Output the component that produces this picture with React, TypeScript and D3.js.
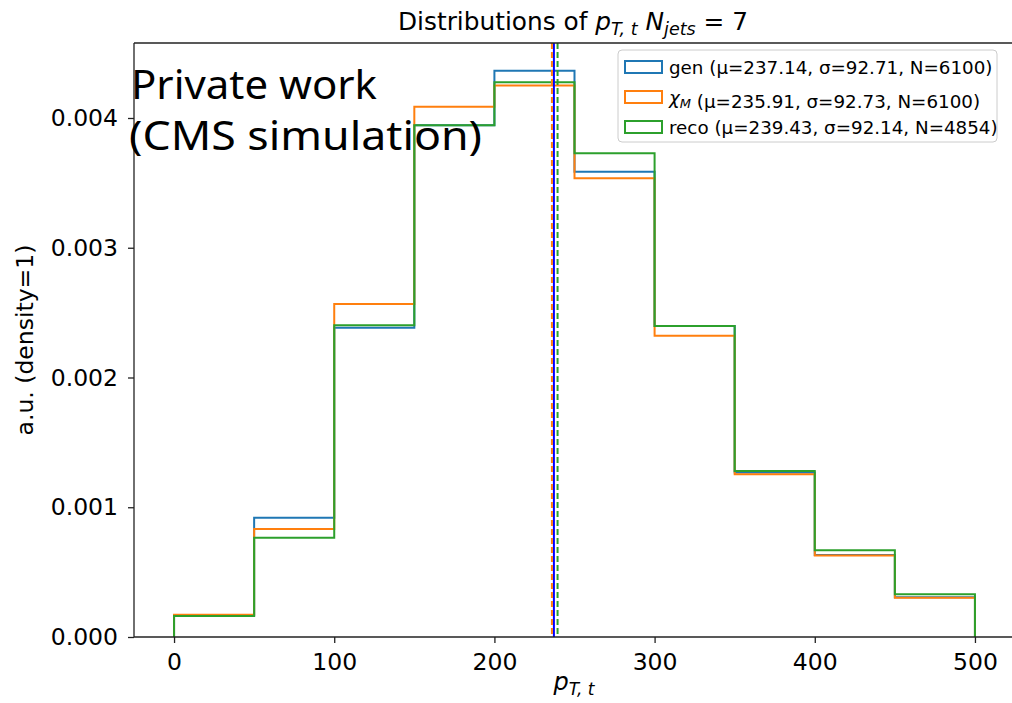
import React, { useEffect, useRef } from 'react';
import * as d3 from 'd3';

// bin edges of p_T,t histogram
const binEdges = [0, 50, 100, 150, 200, 250, 300, 350, 400, 450, 500];

// density values per bin
const genValues = [0.000165, 0.000919, 0.002384, 0.003944, 0.004365, 0.003586, 0.002397, 0.001268, 0.000632, 0.000306];
const chiValues = [0.000172, 0.000832, 0.002567, 0.004087, 0.00425, 0.003535, 0.002322, 0.001254, 0.000628, 0.000302];
const recoValues = [0.000162, 0.000765, 0.002402, 0.003944, 0.004275, 0.003728, 0.002397, 0.001279, 0.000668, 0.000329];

const seriesColors = ['#1f77b4', '#ff7f0e', '#2ca02c'];
const meanValues = [237.14, 235.91, 239.43];
const meanColors = ['blue', '#ff7f0e', '#2ca02c'];
const meanDashes = ['none', '6,3', '6,3'];

const legendRest = [
  ' (μ=237.14, σ=92.71, N=6100)',
  ' (μ=235.91, σ=92.73, N=6100)',
  ' (μ=239.43, σ=92.14, N=4854)',
];

const xTicks = [0, 100, 200, 300, 400, 500];
const yTicks = [0, 0.001, 0.002, 0.003, 0.004];

const W = 1012;
const H = 703;
const font = 'DejaVu Sans';

export default function App() {
  const xAxisRef = useRef<SVGGElement>(null);
  const yAxisRef = useRef<SVGGElement>(null);

  const x = d3.scaleLinear().domain([-25, 525]).range([134, 1015]);
  const y = d3.scaleLinear().domain([0, 0.004578]).range([637, 43]);

  useEffect(() => {
    const gx = d3.select(xAxisRef.current);
    gx.call(d3.axisBottom(x).tickValues(xTicks).tickSize(6).tickPadding(10).tickFormat(d3.format('d')) as any);
    gx.select('.domain').remove();
    gx.selectAll('text').attr('font-size', 23.5).attr('font-family', font).attr('fill', '#000');
    gx.selectAll('line').attr('stroke', '#222').attr('stroke-width', 1.3);

    const gy = d3.select(yAxisRef.current);
    gy.call(d3.axisLeft(y).tickValues(yTicks).tickSize(6).tickPadding(10).tickFormat(d3.format('.3f')) as any);
    gy.select('.domain').remove();
    gy.selectAll('text').attr('font-size', 23.5).attr('font-family', font).attr('fill', '#000');
    gy.selectAll('line').attr('stroke', '#222').attr('stroke-width', 1.3);
  }, []);

  const stepPath = (vals: number[]) => {
    const pts: [number, number][] = [[binEdges[0], 0]];
    vals.forEach((v, i) => {
      pts.push([binEdges[i], v]);
      pts.push([binEdges[i + 1], v]);
    });
    pts.push([binEdges[binEdges.length - 1], 0]);
    return d3.line<[number, number]>().x(d => x(d[0])).y(d => y(d[1]))(pts) || '';
  };

  const series = [genValues, chiValues, recoValues];

  return (
    <svg width={W} height={H} style={{ position: 'absolute', left: 0, top: 0, background: '#fff' }}>
      <defs>
        <clipPath id="plot">
          <rect x={134} y={43} width={1015 - 134} height={637 - 43} />
        </clipPath>
      </defs>

      {/* histograms */}
      <g clipPath="url(#plot)">
        {series.map((vals, i) => (
          <path key={i} d={stepPath(vals)} fill="none" stroke={seriesColors[i]} strokeWidth={2} strokeLinejoin="miter" />
        ))}
      </g>

      {/* mean lines */}
      {meanValues.map((m, i) => (
        <line key={i} x1={x(m)} x2={x(m)} y1={43} y2={637} stroke={meanColors[i]} strokeWidth={2} strokeDasharray={meanDashes[i]} />
      ))}

      {/* spines */}
      <g stroke="#222" strokeWidth={1.3} fill="none">
        <line x1={134} x2={134} y1={43} y2={637} />
        <line x1={134} x2={1015} y1={637} y2={637} />
        <line x1={134} x2={1015} y1={43} y2={43} />
      </g>

      <g ref={xAxisRef} transform="translate(0,637)" />
      <g ref={yAxisRef} transform="translate(134,0)" />

      {/* title */}
      <text x={573} y={30} textAnchor="middle" fontFamily={font} fontSize={24.8} fill="#000">
        Distributions of <tspan fontStyle="italic">p</tspan>
        <tspan fontStyle="italic" fontSize={17.5} dy={5}>T, t</tspan>
        <tspan fontStyle="italic" dy={-5}> N</tspan>
        <tspan fontStyle="italic" fontSize={17.5} dy={5}>jets</tspan>
        <tspan dy={-5}> = 7</tspan>
      </text>

      {/* axis labels */}
      <text x={574} y={690} textAnchor="middle" fontFamily={font} fontSize={24} fill="#000">
        <tspan fontStyle="italic">p</tspan>
        <tspan fontStyle="italic" fontSize={17} dy={5}>T, t</tspan>
      </text>
      <text transform="translate(33,340) rotate(-90)" textAnchor="middle" fontFamily={font} fontSize={23.5} fill="#000">
        a.u. (density=1)
      </text>

      {/* legend */}
      <rect x={618} y={50} width={379} height={92} rx={4} fill="#fff" fillOpacity={0.8} stroke="#ccc" strokeWidth={1} />
      {seriesColors.map((c, i) => (
        <g key={i} transform={`translate(0,${67 + i * 30})`}>
          <rect x={625} y={-6} width={37} height={12} fill="none" stroke={c} strokeWidth={2} />
          <text x={669} y={6.5} fontFamily={font} fontSize={18.3} fill="#000">
            {i === 0 && <tspan>gen</tspan>}
            {i === 1 && (
              <>
                <tspan fontStyle="italic">χ</tspan>
                <tspan fontStyle="italic" fontSize={13} dy={4}>M</tspan>
                <tspan dy={-4}>{''}</tspan>
              </>
            )}
            {i === 2 && <tspan>reco</tspan>}
            <tspan>{legendRest[i]}</tspan>
          </text>
        </g>
      ))}

      {/* annotation */}
      <text x={131} y={99} fontFamily="Noto Sans" fontSize={40} fill="#000" textLength={246} lengthAdjust="spacingAndGlyphs">
        Private work
      </text>
      <text x={129} y={150} fontFamily="Noto Sans" fontSize={40} fill="#000" textLength={353} lengthAdjust="spacingAndGlyphs">
        (CMS simulation)
      </text>
    </svg>
  );
}
